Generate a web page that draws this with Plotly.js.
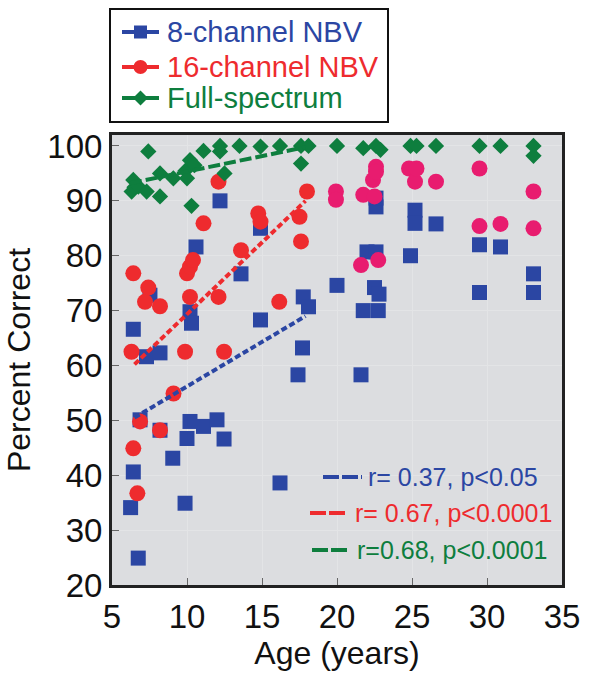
<!DOCTYPE html>
<html>
<head>
<meta charset="utf-8">
<script src="https://cdn.plot.ly/plotly-3.0.1.min.js"></script>
<style>html,body{margin:0;padding:0;background:#fff;}#chart{width:589px;height:681px;}</style>
</head>
<body>
<div id="chart"></div>
<script>
// ---- Data ----
var age8 = [6.24, 6.42, 6.42, 6.75, 6.87, 7.3, 7.53, 8.2, 8.2, 9.05, 9.87, 10.0, 10.2, 10.2, 10.3, 10.6, 11.1, 12.0, 12.2, 12.47, 13.6, 14.9, 14.9, 16.2, 17.4, 17.7, 17.75, 18.1, 20.0, 21.6, 21.75, 22.0, 22.5, 22.6, 22.6, 22.6, 22.75, 22.8, 24.9, 25.2, 25.2, 26.6, 29.5, 29.5, 30.9, 33.1, 33.1];
var pct8 = [34.1, 40.6, 66.6, 24.9, 50.1, 61.6, 72.8, 62.3, 48.2, 43.1, 34.9, 46.7, 69.8, 49.8, 67.7, 81.6, 48.9, 50.1, 90.0, 46.6, 76.7, 85.0, 68.3, 38.6, 58.3, 63.2, 72.5, 70.7, 74.6, 58.3, 70.0, 80.7, 74.2, 80.7, 88.9, 90.5, 70.0, 73.0, 80.0, 88.3, 85.9, 85.8, 82.0, 73.3, 81.6, 76.7, 73.3];

var age16 = [6.3, 6.42, 6.42, 6.69, 6.87, 7.2, 7.42, 8.2, 8.2, 9.1, 9.87, 10.0, 10.2, 10.2, 10.4, 11.1, 12.1, 12.1, 12.47, 13.6, 14.75, 14.9, 16.15, 17.5, 17.6, 18.0,
             19.93, 19.93, 21.6, 21.75, 22.4, 22.5, 22.6, 22.6, 22.75, 24.8, 25.2, 25.3, 26.6, 29.5, 29.5, 30.9, 33.1, 33.1];
var pct16 = [62.5, 76.8, 44.9, 36.7, 49.8, 71.6, 74.2, 70.8, 48.2, 54.9, 62.5, 76.8, 72.5, 78.0, 79.2, 85.9, 93.5, 72.5, 62.5, 81.0, 87.7, 86.2, 71.6, 87.1, 82.6, 91.7,
             91.7, 90.2, 78.3, 91.1, 93.8, 90.8, 96.2, 95.3, 79.2, 95.9, 93.5, 95.9, 93.5, 95.9, 85.4, 85.8, 91.7, 85.0];

var ageFull = [6.31, 6.42, 6.5, 6.76, 7.31, 7.42, 8.2, 8.2, 9.09, 9.9, 10.0, 10.2, 10.3, 10.5, 11.1, 12.2, 12.2, 12.5, 13.5, 14.9, 16.2, 17.6, 17.6, 18.1, 20.0, 21.75, 22.6, 22.9, 24.9, 25.3, 26.6, 29.5, 30.9, 33.1, 33.1];
var pctFull = [91.7, 93.8, 92.5, 92.6, 91.7, 99.0, 95.0, 90.8, 94.1, 95.5, 94.1, 97.4, 89.1, 96.5, 99.1, 100, 99.0, 95.0, 100, 99.9, 100, 100, 96.8, 100, 100, 99.6, 100, 99.3, 100, 100, 100, 100, 100, 100, 98.2];

// regression lines (children), endpoints
var fit8Age = [6.5, 17.9], fit8Pct = [50.5, 69.0];
var fit16Age = [6.5, 17.9], fit16Pct = [60.2, 90.0];
var fitFullAge = [6.2, 17.9], fitFullPct = [93.2, 99.8];

var adultAge = 19; // adults drawn in pink for the 16-channel series
var seriesNames = ['8-channel NBV', '16-channel NBV', 'Full-spectrum'];
var statLabels = ['r= 0.37, p<0.05', 'r= 0.67, p<0.0001', 'r=0.68, p<0.0001'];
var xTicks = [5, 10, 15, 20, 25, 30, 35];
var yTicks = [20, 30, 40, 50, 60, 70, 80, 90, 100];

// ---- Styles ----
var BLUE = '#2b46a3', RED = '#ee2b2e', PINK = '#e81c6f', GREEN = '#0e7e3e';
var FONT = '"Liberation Sans", Arial, Helvetica, sans-serif';
var seriesColors = [BLUE, RED, GREEN];

var col16 = age16.map(function (a) { return a >= adultAge ? PINK : RED; });

var traces = [
  {x: age8, y: pct8, name: seriesNames[0], mode: 'markers', type: 'scatter', cliponaxis: false,
   marker: {symbol: 'square', size: 15, color: BLUE}},
  {x: age16, y: pct16, name: seriesNames[1], mode: 'markers', type: 'scatter', cliponaxis: false,
   marker: {symbol: 'circle', size: 16, color: col16}},
  {x: ageFull, y: pctFull, name: seriesNames[2], mode: 'markers', type: 'scatter', cliponaxis: false,
   marker: {symbol: 'diamond', size: 12.5, color: GREEN}},
  {x: fit8Age, y: fit8Pct, mode: 'lines', line: {color: BLUE, width: 4, dash: '6px,3px'}},
  {x: fit16Age, y: fit16Pct, mode: 'lines', line: {color: RED, width: 4, dash: '6px,3px'}},
  {x: fitFullAge, y: fitFullPct, mode: 'lines', line: {color: GREEN, width: 4, dash: '12px,4px'}}
];

// ---- key box (drawn in paper space; plot area is 450 px square) ----
var PX = 1 / 450;
function px(x) { return (x - 112) * PX; }      // page x -> paper x
function py(y) { return (585 - y) * PX; }      // page y -> paper y
var keyRowsY = [32, 67, 98];
var keyBox = {x0: 110, x1: 388, y0: 9, y1: 122};
var keyLine = {x0: 122, x1: 159}, keyMarkX = 140.5, keyTextX = 165;

var shapes = [];
var annotations = [];
shapes.push({type: 'rect', xref: 'paper', yref: 'paper', x0: px(keyBox.x0), x1: px(keyBox.x1),
             y0: py(keyBox.y1), y1: py(keyBox.y0), fillcolor: '#fff', line: {color: '#111', width: 2}});
keyRowsY.forEach(function (ry, i) {
  var c = seriesColors[i];
  shapes.push({type: 'line', xref: 'paper', yref: 'paper', x0: px(keyLine.x0), x1: px(keyLine.x1),
               y0: py(ry), y1: py(ry), line: {color: c, width: 4}});
  if (i === 0) {
    shapes.push({type: 'rect', xref: 'paper', yref: 'paper', x0: px(keyMarkX - 6.5), x1: px(keyMarkX + 6.5),
                 y0: py(ry + 6.5), y1: py(ry - 6.5), fillcolor: c, line: {width: 0}});
  } else if (i === 1) {
    shapes.push({type: 'circle', xref: 'paper', yref: 'paper', x0: px(keyMarkX - 7), x1: px(keyMarkX + 7),
                 y0: py(ry + 7), y1: py(ry - 7), fillcolor: c, line: {width: 0}});
  } else {
    var h = 7.5;
    shapes.push({type: 'path', xref: 'paper', yref: 'paper',
                 path: 'M' + px(keyMarkX - h) + ',' + py(ry) + ' L' + px(keyMarkX) + ',' + py(ry - h) +
                       ' L' + px(keyMarkX + h) + ',' + py(ry) + ' L' + px(keyMarkX) + ',' + py(ry + h) + ' Z',
                 fillcolor: c, line: {width: 0}});
  }
  annotations.push({text: seriesNames[i], xref: 'paper', yref: 'paper', x: px(keyTextX), y: py(ry),
                    xanchor: 'left', yanchor: 'middle', showarrow: false,
                    font: {family: FONT, size: 29, color: c}});
});

// ---- correlation key (bottom right) ----
var statRowsY = [477, 513, 550];
var statTextX = [366, 353, 355];
var statLine0 = [323, 310, 312], statLine1 = [362, 348, 350];
statLabels.forEach(function (t, i) {
  var c = seriesColors[i];
  annotations.push({text: t, xref: 'paper', yref: 'paper', x: px(statTextX[i]), y: py(statRowsY[i]),
                    xanchor: 'left', yanchor: 'middle', showarrow: false,
                    font: {family: FONT, size: 25, color: c}});
  shapes.push({type: 'line', xref: 'paper', yref: 'paper', x0: px(statLine0[i]), x1: px(statLine1[i]),
               y0: py(statRowsY[i]), y1: py(statRowsY[i]), line: {color: c, width: 4, dash: '16px,3px'}});
});

var layout = {
  width: 589, height: 681,
  margin: {l: 112, r: 27, t: 135, b: 96, pad: 0},
  paper_bgcolor: '#ffffff', plot_bgcolor: '#dcdde0',
  font: {family: FONT, color: '#111'},
  showlegend: false,
  xaxis: {range: [5, 35], tickvals: xTicks, ticks: 'inside', ticklen: 7, tickcolor: '#666', tickwidth: 1,
          showline: true, mirror: true, linecolor: '#222', linewidth: 3, zeroline: false,
          showgrid: true, gridcolor: '#e3e4e6', gridwidth: 1,
          tickfont: {family: FONT, size: 33, color: '#111'},
          title: {text: 'Age (years)', font: {family: FONT, size: 32, color: '#111'}, standoff: 4}},
  yaxis: {range: [20, 102], tickvals: yTicks, ticks: 'inside', ticklen: 7, tickcolor: '#666', tickwidth: 1,
          showline: true, mirror: true, linecolor: '#222', linewidth: 3, zeroline: false,
          showgrid: true, gridcolor: '#e3e4e6', gridwidth: 1,
          tickfont: {family: FONT, size: 33, color: '#111'},
          title: {text: 'Percent Correct', font: {family: FONT, size: 32, color: '#111'}, standoff: 8}},
  annotations: annotations,
  shapes: shapes
};

Plotly.newPlot('chart', traces, layout, {staticPlot: true, displayModeBar: false});
</script>
</body>
</html>
